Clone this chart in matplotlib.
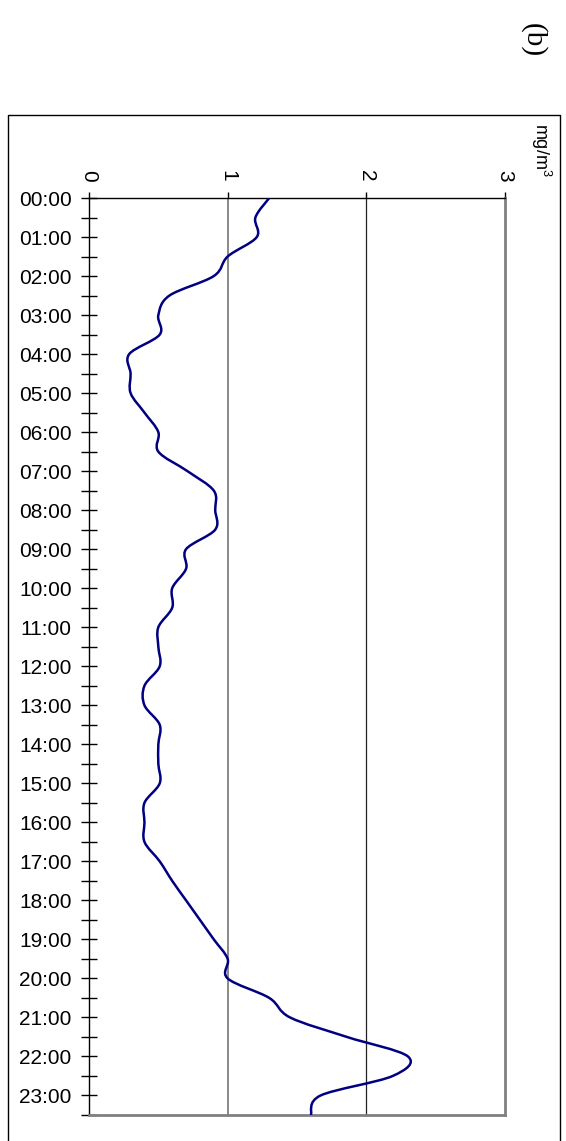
# 日均浓度曲线 (b) - 竖排时间轴, 平滑折线
import numpy as np
import matplotlib.pyplot as plt
from matplotlib.path import Path
from matplotlib.patches import PathPatch
from matplotlib.lines import Line2D

plt.rcParams['font.family'] = ['Liberation Sans', 'DejaVu Sans']
plt.rcParams['mathtext.fontset'] = 'custom'
plt.rcParams['mathtext.rm'] = 'Liberation Sans'

# half-hourly readings, 00:00 .. 23:30
hour_labels = [f"{h:02d}:00" for h in range(24)]
conc = [1.30, 1.20, 1.21, 1.00, 0.90, 0.58, 0.50, 0.51,
        0.29, 0.30, 0.30, 0.40, 0.50, 0.50, 0.71, 0.90,
        0.91, 0.91, 0.70, 0.70, 0.60, 0.60, 0.50, 0.50,
        0.51, 0.40, 0.40, 0.51, 0.50, 0.50, 0.51, 0.40,
        0.40, 0.40, 0.51, 0.60, 0.70, 0.80, 0.90, 1.00,
        1.00, 1.30, 1.45, 1.86, 2.30, 2.19, 1.67, 1.60]
t = np.arange(len(conc)) * 0.5
value_ticks = [0, 1, 2, 3]


def smooth_path(x, y):
    # catmull-rom style bezier through every point (like excel "smoothed line")
    p = np.column_stack([x, y])
    n = len(p)
    verts = [p[0]]
    codes = [Path.MOVETO]
    for i in range(n - 1):
        p0 = p[i - 1] if i > 0 else p[i]
        p3 = p[i + 2] if i + 2 < n else p[i + 1]
        c1 = p[i] + (p[i + 1] - p0) / 6
        c2 = p[i + 1] - (p3 - p[i]) / 6
        verts += [c1, c2, p[i + 1]]
        codes += [Path.CURVE4] * 3
    return Path(verts, codes)


W, H = 566, 1141
fig = plt.figure(figsize=(W / 100, H / 100), dpi=100)
x0, x1, y0, y1 = 89, 505, 198, 1115
ax = fig.add_axes([x0 / W, 1 - y1 / H, (x1 - x0) / W, (y1 - y0) / H])

ax.set_xlim(0, 3)
ax.set_ylim(23.5, 0)

ax.axvline(1, color='#808080', lw=1.3, zorder=1)
ax.axvline(2, color='#222222', lw=0.9, zorder=1)

ax.add_patch(PathPatch(smooth_path(conc, t), facecolor='none',
                       edgecolor='#000080', lw=1.8, zorder=3))

# value axis along the top, labels turned clockwise
ax.xaxis.tick_top()
ax.set_xticks(value_ticks)
ax.set_xticklabels([str(v) for v in value_ticks], rotation=-90)
ax.tick_params(axis='x', direction='out', length=4, width=1, pad=8,
               labelsize=15)

# time axis on the left
ax.set_yticks(np.arange(24))
ax.set_yticklabels(hour_labels)
ax.set_yticks(np.arange(0.5, 24, 1), minor=True)
ax.tick_params(axis='y', which='both', direction='inout', length=11,
               width=1, pad=7, labelsize=15)

ax.spines['top'].set_color('black')
ax.spines['top'].set_linewidth(1)
ax.spines['left'].set_color('black')
ax.spines['left'].set_linewidth(1)
for side in ('right', 'bottom'):
    ax.spines[side].set_color('#808080')
    ax.spines[side].set_linewidth(2)

# outer frame, open at the bottom edge of the page
fx0, fx1, fy = 8 / W, 560 / W, 1 - 115 / H
fig.add_artist(Line2D([fx0, fx0, fx1, fx1], [0, fy, fy, 0],
                      transform=fig.transFigure, color='black', lw=1))

fig.text(541 / W, 1 - 150 / H, 'mg/m$^{3}$', rotation=-90,
         ha='center', va='center', fontsize=13)
fig.text(533 / W, 1 - 40 / H, '(b)', rotation=-90, ha='center',
         va='center', family='Liberation Serif', fontsize=21)

fig.savefig('out.png', dpi=100)
